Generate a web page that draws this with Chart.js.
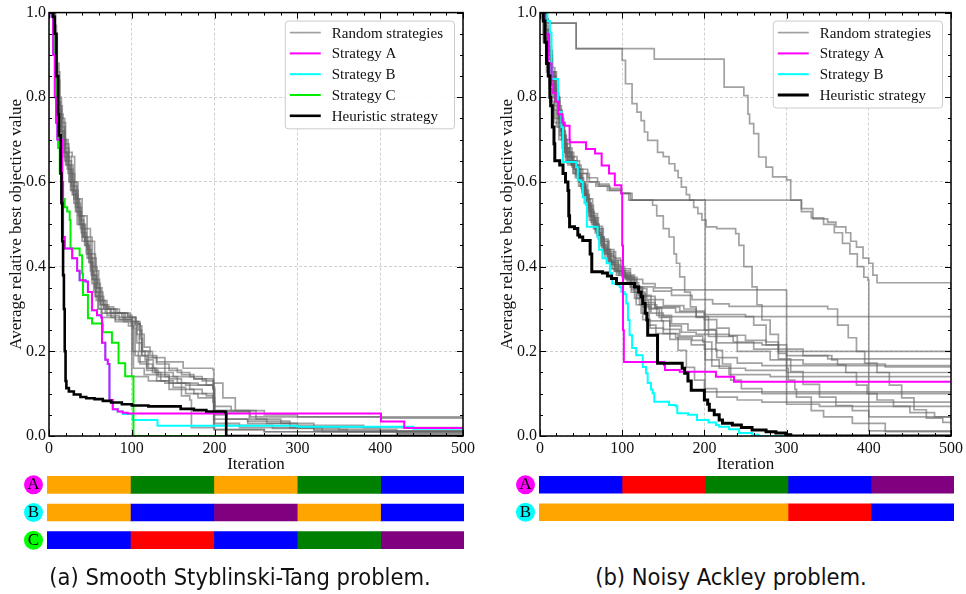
<!DOCTYPE html>
<html>
<head>
<meta charset="utf-8">
<title>Strategy comparison</title>
<script src="https://cdn.jsdelivr.net/npm/chart.js@4.4.1/dist/chart.umd.min.js"></script>
<style>
    html, body { margin: 0; padding: 0; background: #fff; }
    #page { position: relative; width: 966px; height: 594px; overflow: hidden; }
    #page canvas { position: absolute; }
    .caption {
        position: absolute; top: 564px; line-height: 26px; white-space: nowrap;
        font-family: "DejaVu Sans Condensed", "DejaVu Sans", sans-serif; font-stretch: condensed;
        font-size: 23.5px; color: #111; transform: translateX(-50%);
    }
</style>
</head>
<body>
<div id="page">
    <canvas id="plotStyb" width="483" height="475" style="left:0;top:0"></canvas>
    <canvas id="plotAckley" width="475" height="475" style="left:491px;top:0"></canvas>
    <canvas id="seqStyb" width="483" height="83" style="left:0;top:471px"></canvas>
    <canvas id="seqAckley" width="475" height="55" style="left:491px;top:471px"></canvas>
    <div class="caption" style="left:240px">(a) Smooth Styblinski-Tang problem.</div>
    <div class="caption" style="left:731px">(b) Noisy Ackley problem.</div>
</div>
<script>
// ---- Styblinski-Tang runs: [iteration, avg relative best value] at each improvement ----
var STYB_HEUR = [[0,1],[5,0.99],[7,0.95],[9,0.85],[11,0.76],[12,0.71],[14,0.62],[15,0.55],[16,0.46],[17,0.38],[18,0.3],[19,0.2],[20,0.13],[21,0.113],[24,0.105],[30,0.098],[38,0.092],[45,0.089],[55,0.087],[65,0.083],[75,0.079],[88,0.075],[100,0.072],[120,0.07],[158,0.07],[159,0.064],[175,0.061],[190,0.058],[213,0.056],[214,0],[500,0]];
var STYB_A = [[0,1],[3,0.99],[5,0.9],[7,0.8],[8.5,0.74],[10,0.7],[15,0.7],[16,0.6],[17,0.47],[19,0.443],[25,0.443],[28,0.42],[34,0.39],[37,0.368],[44,0.365],[47,0.34],[52,0.297],[58,0.285],[63,0.28],[64,0.22],[68,0.18],[71,0.17],[73,0.085],[77,0.063],[83,0.058],[89,0.055],[95,0.053],[400,0.053],[401,0.034],[428,0.034],[429,0.019],[500,0.019]];
var STYB_B = [[0,1],[3,0.99],[5,0.9],[7,0.8],[8.5,0.74],[10,0.7],[15,0.7],[16,0.6],[17,0.47],[19,0.443],[25,0.443],[28,0.42],[34,0.39],[37,0.368],[44,0.365],[47,0.34],[52,0.297],[58,0.285],[63,0.28],[64,0.22],[68,0.18],[71,0.17],[73,0.085],[77,0.063],[83,0.058],[89,0.052],[101,0.038],[130,0.038],[131,0.024],[300,0.022],[440,0.017],[500,0.017]];
var STYB_C = [[0,1],[5,0.95],[8,0.85],[10,0.75],[11,0.68],[13,0.62],[15,0.56],[19,0.54],[22,0.53],[25,0.51],[26,0.443],[35,0.443],[37,0.427],[40,0.384],[41,0.333],[46,0.333],[47,0.278],[52,0.266],[61,0.266],[65,0.245],[73,0.245],[76,0.22],[83,0.22],[84,0.172],[90,0.172],[92,0.141],[101,0.141],[102,0],[500,0]];
var STYB_RANDOM = [
    [[0,1],[6,0.93],[8,0.87],[10,0.75],[12,0.72],[16,0.67],[22,0.65],[27,0.59],[34,0.55],[38,0.52],[42,0.49],[50,0.46],[55,0.4],[58,0.36],[62,0.31],[68,0.29],[80,0.275],[99,0.265],[100,0.14],[120,0.13],[140,0.125],[165,0.12],[198,0.115],[199,0.015],[260,0.01],[500,0.008]],
    [[0,1],[7,0.9],[9,0.82],[11,0.76],[14,0.7],[18,0.66],[24,0.6],[30,0.56],[36,0.5],[41,0.47],[46,0.44],[51,0.38],[56,0.33],[60,0.3],[70,0.285],[85,0.275],[100,0.27],[107,0.265],[110,0.23],[113,0.2],[120,0.185],[130,0.17],[145,0.155],[160,0.145],[175,0.135],[190,0.12],[198,0.11],[200,0.03],[230,0.025],[270,0.02],[330,0.01],[500,0.006]],
    [[0,1],[5,0.95],[8,0.85],[11,0.78],[14,0.73],[19,0.67],[28,0.66],[31,0.6],[35,0.56],[40,0.52],[46,0.47],[52,0.42],[57,0.37],[61,0.33],[66,0.3],[75,0.29],[90,0.28],[104,0.27],[108,0.25],[112,0.2],[125,0.185],[140,0.175],[162,0.16],[198,0.157],[199,0.06],[242,0.057],[243,0.045],[500,0.045]],
    [[0,1],[6,0.92],[9,0.84],[13,0.76],[17,0.7],[21,0.64],[26,0.58],[32,0.53],[39,0.48],[45,0.43],[50,0.39],[54,0.34],[59,0.3],[64,0.28],[80,0.27],[96,0.26],[102,0.255],[104,0.19],[110,0.17],[118,0.16],[128,0.15],[150,0.14],[175,0.135],[198,0.13],[199,0.04],[240,0.035],[263,0.03],[291,0.02],[350,0.015],[420,0.008],[500,0.005]],
    [[0,1],[8,0.95],[10,0.86],[13,0.78],[16,0.74],[20,0.69],[24,0.63],[29,0.57],[35,0.52],[40,0.47],[44,0.45],[49,0.41],[53,0.37],[58,0.34],[65,0.31],[72,0.3],[85,0.29],[95,0.28],[105,0.27],[110,0.24],[115,0.21],[122,0.19],[130,0.175],[140,0.16],[155,0.15],[170,0.14],[185,0.13],[198,0.125],[210,0.09],[225,0.06],[250,0.04],[280,0.03],[320,0.025],[380,0.02],[500,0.018]],
    [[0,1],[6,0.9],[9,0.8],[12,0.74],[16,0.69],[20,0.64],[25,0.6],[30,0.55],[34,0.5],[40,0.46],[46,0.42],[52,0.37],[56,0.33],[62,0.31],[70,0.3],[80,0.29],[95,0.285],[100,0.27],[101,0.2],[108,0.175],[118,0.155],[132,0.14],[145,0.125],[160,0.11],[175,0.1],[190,0.095],[198,0.09],[200,0.05],[215,0.04],[240,0.03],[300,0.02],[400,0.012],[500,0.01]],
    [[0,1],[5,0.9],[8,0.82],[11,0.75],[15,0.7],[19,0.65],[23,0.62],[28,0.57],[33,0.53],[38,0.49],[43,0.45],[48,0.41],[52,0.36],[57,0.32],[63,0.29],[75,0.28],[90,0.27],[100,0.26],[102,0.16],[115,0.145],[130,0.13],[145,0.11],[160,0.095],[170,0.085],[172,0.02],[200,0.015],[260,0.01],[500,0.004]],
    [[0,1],[7,0.88],[10,0.79],[14,0.72],[18,0.67],[22,0.63],[27,0.58],[32,0.54],[37,0.5],[43,0.46],[48,0.42],[53,0.38],[58,0.35],[62,0.32],[68,0.305],[78,0.29],[92,0.275],[101,0.265],[106,0.24],[109,0.2],[116,0.18],[126,0.16],[140,0.14],[155,0.125],[170,0.11],[185,0.1],[198,0.095],[199,0.025],[230,0.02],[270,0.018],[320,0.012],[500,0.01]],
    [[0,1],[6,0.94],[9,0.85],[12,0.77],[15,0.72],[19,0.68],[24,0.64],[29,0.6],[33,0.56],[37,0.51],[42,0.47],[47,0.43],[51,0.4],[55,0.35],[60,0.32],[66,0.3],[74,0.29],[88,0.28],[100,0.27],[104,0.26],[106,0.22],[112,0.19],[118,0.17],[125,0.15],[135,0.13],[150,0.115],[165,0.1],[180,0.09],[198,0.08],[200,0.06],[218,0.057],[242,0.04],[263,0.035],[291,0.025],[320,0.015],[360,0.01],[420,0.005],[500,0.003]],
    [[0,1],[5,0.97],[9,0.88],[12,0.8],[15,0.75],[19,0.7],[23,0.66],[27,0.62],[31,0.58],[35,0.54],[39,0.5],[44,0.46],[50,0.43],[56,0.39],[60,0.35],[64,0.32],[70,0.3],[82,0.29],[98,0.28],[105,0.265],[110,0.26],[112,0.19],[120,0.16],[130,0.145],[145,0.135],[160,0.125],[180,0.12],[198,0.115],[200,0.07],[220,0.06],[260,0.05],[300,0.045],[401,0.042],[500,0.04]]
];

// ---- Noisy Ackley runs ----
var ACK_HEUR = [[0,1],[4,0.98],[6,0.93],[8,0.88],[10,0.85],[12,0.8],[13,0.78],[15,0.73],[17,0.69],[18,0.65],[24,0.64],[28,0.62],[31,0.6],[34,0.58],[35,0.52],[36,0.494],[42,0.49],[46,0.475],[48,0.47],[52,0.462],[60,0.462],[61,0.43],[63,0.388],[76,0.385],[82,0.378],[87,0.372],[93,0.36],[113,0.36],[115,0.352],[120,0.34],[123,0.329],[125,0.313],[128,0.29],[130,0.274],[131,0.238],[141,0.238],[143,0.172],[172,0.172],[173,0.16],[176,0.148],[180,0.13],[184,0.108],[197,0.108],[200,0.085],[204,0.075],[206,0.061],[212,0.05],[218,0.038],[222,0.03],[234,0.026],[245,0.02],[258,0.014],[275,0.01],[287,0.007],[299,0.003],[305,0],[500,0]];
var ACK_A = [[0,1],[5,0.95],[10,0.88],[14,0.83],[16,0.81],[19,0.79],[22,0.76],[27,0.74],[30,0.733],[36,0.694],[56,0.678],[67,0.667],[75,0.639],[84,0.62],[91,0.592],[99,0.573],[100,0.45],[101,0.25],[102,0.175],[151,0.167],[152,0.156],[170,0.152],[214,0.14],[236,0.128],[500,0.128]];
var ACK_B = [[0,1],[9,0.98],[12,0.953],[14,0.843],[20,0.843],[22,0.765],[26,0.73],[28,0.647],[40,0.647],[44,0.635],[46,0.604],[50,0.6],[52,0.564],[55,0.55],[57,0.494],[69,0.494],[70,0.47],[72,0.44],[76,0.42],[81,0.408],[85,0.385],[88,0.36],[94,0.357],[97,0.352],[99,0.34],[103,0.335],[105,0.313],[107,0.274],[109,0.238],[112,0.208],[117,0.191],[123,0.191],[125,0.163],[129,0.148],[131,0.125],[135,0.11],[137,0.101],[139,0.081],[157,0.073],[165,0.07],[167,0.054],[180,0.05],[191,0.038],[205,0.032],[214,0.026],[218,0.022],[230,0.016],[242,0.007],[258,0.003],[266,0],[500,0]];
var ACK_RANDOM = [
    [[0,1],[3,0.985],[10,0.975],[44,0.915],[139,0.89],[224,0.824],[248,0.804],[253,0.76],[255,0.738],[260,0.714],[266,0.659],[275,0.635],[283,0.612],[300,0.605],[305,0.557],[318,0.537],[332,0.513],[350,0.505],[360,0.494],[372,0.48],[378,0.46],[385,0.446],[393,0.42],[400,0.408],[405,0.38],[410,0.362],[499,0.362],[500,0.35]],
    [[0,1],[3,0.985],[10,0.975],[44,0.915],[100,0.887],[104,0.832],[112,0.785],[118,0.765],[123,0.745],[127,0.718],[131,0.698],[143,0.67],[150,0.66],[157,0.643],[164,0.627],[168,0.61],[172,0.588],[178,0.57],[182,0.557],[187,0.54],[192,0.525],[197,0.51],[202,0.494],[215,0.49],[238,0.478],[242,0.45],[248,0.4],[258,0.352],[264,0.31],[270,0.274],[280,0.24],[290,0.195],[300,0.16],[302,0.132],[310,0.11],[312,0.092],[330,0.06],[345,0.045],[380,0.03],[420,0.01],[500,0.008]],
    [[0,1],[4,0.95],[7,0.88],[11,0.82],[15,0.77],[20,0.73],[26,0.7],[33,0.67],[41,0.64],[50,0.62],[60,0.6],[72,0.59],[85,0.58],[99,0.573],[110,0.557],[200,0.557],[201,0.104],[500,0.104]],
    [[0,1],[5,0.94],[9,0.87],[13,0.8],[18,0.75],[24,0.71],[31,0.68],[39,0.65],[48,0.63],[58,0.61],[70,0.595],[84,0.585],[99,0.573],[112,0.557],[305,0.557],[318,0.53],[330,0.515],[345,0.5],[358,0.48],[368,0.455],[377,0.43],[386,0.4],[394,0.375],[399,0.368],[400,0.012],[500,0.008]],
    [[0,1],[4,0.93],[8,0.86],[12,0.79],[17,0.74],[23,0.7],[30,0.67],[38,0.64],[47,0.62],[57,0.6],[68,0.59],[82,0.58],[99,0.573],[108,0.557],[137,0.545],[142,0.52],[150,0.49],[157,0.47],[163,0.43],[166,0.408],[170,0.376],[176,0.34],[183,0.305],[190,0.28],[200,0.25],[215,0.22],[240,0.2],[280,0.18],[320,0.17],[420,0.163],[500,0.16]],
    [[0,1],[6,0.96],[10,0.9],[14,0.85],[19,0.8],[23,0.75],[27,0.7],[31,0.65],[40,0.62],[47,0.59],[54,0.55],[60,0.51],[67,0.48],[73,0.45],[79,0.42],[86,0.395],[93,0.38],[100,0.378],[113,0.37],[125,0.36],[140,0.35],[160,0.345],[299,0.344],[300,0.075],[340,0.07],[500,0.068]],
    [[0,1],[5,0.95],[9,0.9],[13,0.86],[17,0.81],[22,0.76],[26,0.72],[30,0.67],[38,0.64],[45,0.61],[51,0.575],[57,0.53],[63,0.5],[70,0.47],[77,0.44],[84,0.41],[90,0.39],[96,0.38],[106,0.37],[112,0.345],[118,0.325],[125,0.305],[135,0.29],[150,0.282],[500,0.278]],
    [[0,1],[7,0.95],[11,0.89],[15,0.83],[20,0.79],[24,0.74],[28,0.69],[33,0.65],[42,0.63],[48,0.6],[55,0.56],[61,0.52],[66,0.49],[72,0.46],[78,0.43],[85,0.405],[92,0.39],[100,0.385],[110,0.37],[117,0.35],[124,0.32],[132,0.3],[145,0.28],[158,0.26],[172,0.245],[190,0.24],[230,0.236],[240,0.22],[270,0.215],[290,0.2],[500,0.199]],
    [[0,1],[6,0.94],[10,0.88],[14,0.84],[18,0.79],[23,0.74],[28,0.68],[34,0.64],[43,0.61],[50,0.585],[56,0.545],[62,0.505],[69,0.475],[75,0.445],[82,0.415],[88,0.395],[94,0.385],[104,0.375],[114,0.355],[121,0.335],[128,0.315],[140,0.305],[170,0.295],[200,0.275],[215,0.255],[230,0.238],[250,0.226],[275,0.215],[300,0.205],[320,0.19],[350,0.182],[500,0.18]],
    [[0,1],[8,0.96],[12,0.91],[15,0.86],[20,0.8],[24,0.75],[29,0.69],[36,0.65],[44,0.62],[50,0.595],[55,0.56],[59,0.52],[65,0.49],[71,0.465],[77,0.435],[83,0.41],[91,0.39],[100,0.375],[111,0.34],[117,0.31],[125,0.275],[134,0.255],[150,0.242],[165,0.232],[185,0.226],[200,0.205],[215,0.185],[240,0.172],[270,0.166],[500,0.165]],
    [[0,1],[5,0.94],[9,0.88],[13,0.83],[18,0.78],[22,0.73],[27,0.68],[33,0.645],[41,0.62],[49,0.59],[56,0.55],[62,0.515],[68,0.485],[74,0.455],[80,0.43],[87,0.405],[97,0.385],[106,0.36],[115,0.325],[123,0.29],[131,0.262],[141,0.242],[158,0.228],[184,0.215],[201,0.18],[218,0.16],[250,0.155],[300,0.15],[500,0.15]],
    [[0,1],[7,0.95],[11,0.9],[15,0.85],[19,0.8],[24,0.76],[28,0.71],[32,0.66],[41,0.63],[49,0.6],[54,0.57],[60,0.53],[66,0.5],[72,0.47],[78,0.44],[85,0.415],[95,0.39],[102,0.372],[110,0.352],[121,0.31],[133,0.272],[150,0.252],[170,0.236],[198,0.222],[209,0.165],[230,0.145],[280,0.14],[500,0.14]],
    [[0,1],[6,0.95],[10,0.89],[14,0.84],[18,0.79],[22,0.75],[26,0.71],[31,0.66],[39,0.635],[47,0.6],[53,0.57],[59,0.535],[65,0.5],[71,0.47],[78,0.44],[86,0.41],[93,0.395],[100,0.38],[115,0.348],[130,0.322],[150,0.308],[175,0.3],[190,0.282],[205,0.252],[214,0.202],[222,0.17],[232,0.132],[245,0.112],[270,0.1],[500,0.1]],
    [[0,1],[5,0.96],[9,0.91],[13,0.86],[17,0.82],[21,0.77],[25,0.73],[29,0.68],[36,0.645],[44,0.615],[51,0.58],[57,0.54],[63,0.51],[69,0.48],[75,0.45],[82,0.425],[91,0.4],[99,0.39],[108,0.362],[120,0.332],[135,0.302],[148,0.272],[158,0.242],[168,0.202],[178,0.162],[188,0.132],[200,0.112],[215,0.092],[240,0.085],[270,0.08],[500,0.08]],
    [[0,1],[7,0.96],[11,0.91],[14,0.86],[19,0.81],[23,0.77],[27,0.72],[31,0.67],[39,0.64],[46,0.61],[53,0.58],[59,0.545],[65,0.515],[71,0.49],[77,0.46],[84,0.435],[92,0.415],[100,0.395],[110,0.352],[125,0.33],[140,0.302],[165,0.292],[200,0.287],[250,0.282],[260,0.262],[275,0.222],[290,0.182],[305,0.152],[320,0.122],[340,0.092],[360,0.072],[380,0.06],[400,0.045],[500,0.045]],
    [[0,1],[6,0.97],[10,0.92],[14,0.87],[18,0.82],[22,0.78],[26,0.74],[30,0.7],[37,0.66],[45,0.63],[52,0.595],[58,0.56],[64,0.525],[70,0.495],[76,0.465],[83,0.44],[90,0.42],[98,0.4],[103,0.375],[118,0.352],[138,0.342],[160,0.332],[185,0.322],[210,0.312],[230,0.306],[350,0.3],[362,0.262],[375,0.232],[385,0.2],[395,0.172],[410,0.15],[425,0.12],[440,0.09],[455,0.062],[470,0.042],[490,0.032],[500,0.028]],
    [[0,1],[5,0.95],[9,0.9],[13,0.85],[17,0.8],[21,0.76],[25,0.72],[29,0.68],[35,0.65],[43,0.62],[50,0.59],[56,0.55],[62,0.52],[68,0.49],[75,0.46],[82,0.43],[89,0.41],[95,0.39],[104,0.37],[115,0.34],[128,0.31],[142,0.285],[160,0.265],[180,0.25],[205,0.235],[235,0.222],[260,0.205],[300,0.19],[355,0.18],[362,0.168],[372,0.15],[385,0.12],[398,0.1],[410,0.085],[430,0.07],[450,0.055],[480,0.045],[500,0.038]]
];

// ---- operator sequence per strategy, one colour per 100-iteration phase ----
var PHASE_LEN = [100, 100, 100, 100, 100];
var STYB_SEQ_A = ['orange', 'green', 'orange', 'green', 'blue'];
var STYB_SEQ_B = ['orange', 'blue', 'purple', 'orange', 'blue'];
var STYB_SEQ_C = ['blue', 'red', 'blue', 'green', 'purple'];
var ACK_SEQ_A = ['blue', 'red', 'green', 'blue', 'purple'];
var ACK_SEQ_B = ['orange', 'orange', 'orange', 'red', 'blue'];

var SERIF = '"Liberation Serif", "Times New Roman", serif';
var GREY = 'rgba(100, 100, 100, 0.6)';
var BADGE = { A: '#ff00ff', B: '#00ffff', C: '#00ff00' };

function isMajorX(v) { return Math.round(v) % 100 === 0; }
function isMajorY(v) { return Math.round(v * 100) % 20 === 0; }

// matplotlib-style frame with inward ticks on all four sides
var axesFrame = {
    id: 'axesFrame',
    afterDatasetsDraw: function (chart) {
        var ctx = chart.ctx, a = chart.chartArea, x = chart.scales.x, y = chart.scales.y;
        ctx.save();
        ctx.strokeStyle = '#000';
        ctx.lineWidth = 1;
        ctx.beginPath();
        x.ticks.forEach(function (t) {
            var px = Math.round(x.getPixelForValue(t.value)) + 0.5;
            var len = isMajorX(t.value) ? 6 : 3;
            ctx.moveTo(px, a.bottom); ctx.lineTo(px, a.bottom - len);
            ctx.moveTo(px, a.top); ctx.lineTo(px, a.top + len);
        });
        y.ticks.forEach(function (t) {
            var py = Math.round(y.getPixelForValue(t.value)) + 0.5;
            var len = isMajorY(t.value) ? 6 : 3;
            ctx.moveTo(a.left, py); ctx.lineTo(a.left + len, py);
            ctx.moveTo(a.right, py); ctx.lineTo(a.right - len, py);
        });
        ctx.stroke();
        ctx.lineWidth = 1.5;
        ctx.strokeRect(a.left, a.top, a.width, a.height);
        ctx.restore();
    }
};

// boxed legend in the upper right corner of the plot, one row per label
var boxLegend = {
    id: 'boxLegend',
    afterDraw: function (chart) {
        var ctx = chart.ctx, a = chart.chartArea;
        var seen = {};
        var items = chart.data.datasets.filter(function (d) {
            if (seen[d.label]) return false;
            seen[d.label] = true;
            return true;
        });
        ctx.save();
        ctx.font = '15px ' + SERIF;
        var textW = Math.max.apply(null, items.map(function (d) { return ctx.measureText(d.label).width; }));
        var rowH = 20.8, padTop = 12, padBottom = 12.5;
        var w = 47 + textW + 11;
        var h = padTop + padBottom + (items.length - 1) * rowH;
        var left = a.right - 9 - w, top = a.top + 8;
        ctx.fillStyle = 'rgba(255,255,255,0.92)';
        ctx.strokeStyle = '#cccccc';
        ctx.lineWidth = 1;
        ctx.beginPath();
        ctx.roundRect(left + 0.5, top + 0.5, w, h, 3);
        ctx.fill();
        ctx.stroke();
        items.forEach(function (d, i) {
            var cy = top + padTop + i * rowH;
            ctx.strokeStyle = d.legendColor || d.borderColor;
            ctx.lineWidth = d.borderWidth;
            ctx.beginPath();
            ctx.moveTo(left + 5, cy); ctx.lineTo(left + 36, cy);
            ctx.stroke();
            ctx.fillStyle = '#111';
            ctx.textBaseline = 'middle';
            ctx.fillText(d.label, left + 47, cy + 1);
        });
        ctx.restore();
    }
};

function run(label, points, color, width, order, legendColor) {
    return {
        label: label, data: points, borderColor: color, borderWidth: width, order: order,
        legendColor: legendColor, stepped: true, pointRadius: 0, fill: false, borderJoinStyle: 'miter'
    };
}

function plotOptions(padRight) {
    return {
        responsive: false,
        animation: false,
        devicePixelRatio: 1,
        layout: { padding: { top: 12, right: padRight, left: 0, bottom: 0 } },
        plugins: { legend: { display: false }, tooltip: { enabled: false } },
        scales: {
            x: {
                type: 'linear', min: 0, max: 500,
                afterFit: function (s) { s.height = 39; },
                ticks: {
                    stepSize: 20, autoSkip: false, maxRotation: 0, padding: 3, color: '#111',
                    font: { family: SERIF, size: 16 },
                    callback: function (v) { return isMajorX(v) ? String(v) : ''; }
                },
                grid: {
                    drawTicks: false, lineWidth: 0.8,
                    color: function (c) { return c.tick && isMajorX(c.tick.value) ? '#c4c4c4' : 'transparent'; }
                },
                border: { display: false, dash: [3, 2] },
                title: { display: true, text: 'Iteration', color: '#111', font: { family: SERIF, size: 17 }, padding: { top: 0, bottom: 0 } }
            },
            y: {
                type: 'linear', min: 0, max: 1,
                afterFit: function (s) { s.width = 49; },
                ticks: {
                    stepSize: 0.05, autoSkip: false, padding: 3, color: '#111',
                    font: { family: SERIF, size: 16 },
                    callback: function (v) { return isMajorY(v) ? v.toFixed(1) : ''; }
                },
                grid: {
                    drawTicks: false, lineWidth: 0.8,
                    color: function (c) { return c.tick && isMajorY(c.tick.value) ? '#c4c4c4' : 'transparent'; }
                },
                border: { display: false, dash: [3, 2] },
                title: { display: true, text: 'Average relative best objective value', color: '#111', font: { family: SERIF, size: 17 }, padding: { top: 6, bottom: 0 } }
            }
        }
    };
}

// coloured circle behind each strategy letter
var letterBadges = {
    id: 'letterBadges',
    beforeDraw: function (chart) {
        var ctx = chart.ctx, y = chart.scales.y, a = chart.chartArea;
        ctx.save();
        chart.data.labels.forEach(function (lab, i) {
            ctx.fillStyle = BADGE[lab];
            ctx.beginPath();
            ctx.arc(a.left - 13.5, y.getPixelForTick(i), 9.5, 0, Math.PI * 2);
            ctx.fill();
        });
        ctx.restore();
    }
};

function sequenceChart(id, rows, seqs, padRight, yWidth) {
    return new Chart(document.getElementById(id), {
        type: 'bar',
        data: {
            labels: rows,
            datasets: PHASE_LEN.map(function (len, k) {
                return {
                    data: seqs.map(function () { return len; }),
                    backgroundColor: seqs.map(function (s) { return s[k]; }),
                    borderWidth: 0, barThickness: 17
                };
            })
        },
        options: {
            indexAxis: 'y',
            responsive: false,
            animation: false,
            devicePixelRatio: 1,
            layout: { autoPadding: false, padding: { top: 0, right: padRight, left: 0, bottom: 0 } },
            plugins: { legend: { display: false }, tooltip: { enabled: false } },
            scales: {
                x: { stacked: true, min: 0, max: 500, display: false },
                y: {
                    stacked: true,
                    // the row letters sit beside the bars, they must not shrink the rows
                    afterFit: function (s) { s.width = yWidth; s.paddingTop = 0; s.paddingBottom = 0; },
                    grid: { display: false, drawTicks: false }, border: { display: false },
                    ticks: { crossAlign: 'center', padding: 7.5, color: '#000', font: { family: SERIF, size: 17 } }
                }
            }
        },
        plugins: [letterBadges]
    });
}

var stybSets = [
    run('Heuristic strategy', STYB_HEUR, '#000000', 2.6, 0),
    run('Strategy A', STYB_A, '#ff00ff', 2, 1),
    run('Strategy C', STYB_C, '#00ee00', 2, 2),
    run('Strategy B', STYB_B, '#00ffff', 2, 3)
];
STYB_RANDOM.forEach(function (r) { stybSets.push(run('Random strategies', r, GREY, 1.7, 5, '#a0a0a0')); });
// legend reads the labels in this order
var STYB_LEGEND = ['Random strategies', 'Strategy A', 'Strategy B', 'Strategy C', 'Heuristic strategy'];
stybSets.sort(function (p, q) { return STYB_LEGEND.indexOf(p.label) - STYB_LEGEND.indexOf(q.label); });

var ackSets = [
    run('Heuristic strategy', ACK_HEUR, '#000000', 3, 0),
    run('Strategy A', ACK_A, '#ff00ff', 2, 1),
    run('Strategy B', ACK_B, '#00ffff', 2, 3)
];
ACK_RANDOM.forEach(function (r) { ackSets.push(run('Random strategies', r, GREY, 1.7, 5, '#a0a0a0')); });
var ACK_LEGEND = ['Random strategies', 'Strategy A', 'Strategy B', 'Heuristic strategy'];
ackSets.sort(function (p, q) { return ACK_LEGEND.indexOf(p.label) - ACK_LEGEND.indexOf(q.label); });

new Chart(document.getElementById('plotStyb'), {
    type: 'line', data: { datasets: stybSets }, options: plotOptions(20), plugins: [axesFrame, boxLegend]
});
new Chart(document.getElementById('plotAckley'), {
    type: 'line', data: { datasets: ackSets }, options: plotOptions(13), plugins: [axesFrame, boxLegend]
});

sequenceChart('seqStyb', ['A', 'B', 'C'], [STYB_SEQ_A, STYB_SEQ_B, STYB_SEQ_C], 19, 47);
sequenceChart('seqAckley', ['A', 'B'], [ACK_SEQ_A, ACK_SEQ_B], 12, 48);
</script>
</body>
</html>
